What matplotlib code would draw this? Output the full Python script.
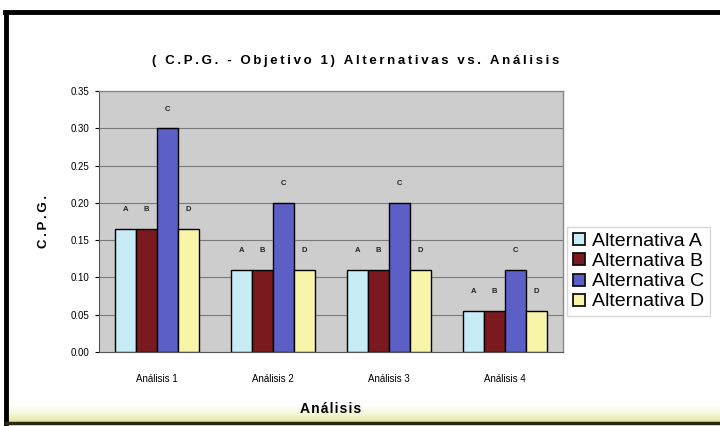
import matplotlib
matplotlib.use("Agg")
import matplotlib.pyplot as plt
import numpy as np
from matplotlib.lines import Line2D

categories = ["Análisis 1", "Análisis 2", "Análisis 3", "Análisis 4"]
series_names = ["Alternativa A", "Alternativa B", "Alternativa C", "Alternativa D"]
bar_letters = ["A", "B", "C", "D"]
alt_a = [0.165, 0.11, 0.11, 0.055]
alt_b = [0.165, 0.11, 0.11, 0.055]
alt_c = [0.30, 0.20, 0.20, 0.11]
alt_d = [0.165, 0.11, 0.11, 0.055]
yticks = [0.00, 0.05, 0.10, 0.15, 0.20, 0.25, 0.30, 0.35]
title = "( C.P.G. - Objetivo 1) Alternativas vs. Análisis"
ylabel = "C.P.G."
xlabel = "Análisis"

colors = ["#c8ecf6", "#7b1a1e", "#5b5fc6", "#f8f5a8"]
series = [alt_a, alt_b, alt_c, alt_d]

plt.rcParams['font.family'] = ['Liberation Sans', 'DejaVu Sans']


def spaced(s, sep="\u2009"):
    return sep.join(list(s))


fig = plt.figure(figsize=(7.2, 4.26), dpi=100)
fig.patch.set_facecolor("white")

# outer frame
grad = np.linspace(0, 1, 50).reshape(-1, 1)
bg = fig.add_axes([0.008, 0.008, 0.992, 0.04], zorder=-5)
bg.imshow(grad, aspect="auto", cmap=matplotlib.colors.LinearSegmentedColormap.from_list(
    "g", ["#ffffff", "#f6f7d6", "#dfe59a"]), origin="upper", extent=[0, 1, 0, 1])
bg.set_axis_off()
fig.add_artist(Line2D([0.007, 1.0], [0.972, 0.972], color="black", lw=3.5, transform=fig.transFigure))
fig.add_artist(Line2D([0.008, 0.008], [0.972, 0.005], color="black", lw=3.5, transform=fig.transFigure))
fig.add_artist(Line2D([0.008, 1.0], [0.008, 0.008], color="#2a2a10", lw=2.5, transform=fig.transFigure))

ax = fig.add_axes([0.1375, 0.1737, 0.6445, 0.6123])
ax.set_facecolor("#cdcdcd")

x = np.arange(len(categories))
w = 0.18
for i, (vals, col, name, let) in enumerate(zip(series, colors, series_names, bar_letters)):
    pos = x + (i - 1.5) * w
    ax.bar(pos, vals, width=w, color=col, edgecolor="black", linewidth=1.0, label=name, zorder=3)
    for p, v in zip(pos, vals):
        ax.text(p, v + 0.021, let, ha="center", va="bottom", fontsize=5.5,
                fontweight="bold", color="#222222", zorder=4)

ax.set_xlim(-0.5, 3.5)
ax.set_ylim(0, 0.35)
ax.set_yticks(yticks)
ax.set_yticklabels([f"{t:.2f}" for t in yticks], fontsize=7)
ax.set_xticks(x)
ax.set_xticklabels(categories, fontsize=7)
ax.tick_params(axis="x", length=0, pad=16)
ax.tick_params(axis="y", length=3, width=0.8, pad=4)
ax.yaxis.grid(True, color="#7a7a7a", linewidth=0.8, zorder=0)
ax.set_axisbelow(True)
for s in ["top", "right"]:
    ax.spines[s].set_color("#888888")
    ax.spines[s].set_linewidth(1.0)
ax.spines["left"].set_color("#555555")
ax.spines["bottom"].set_color("#555555")

ax.set_ylabel(spaced(ylabel), fontsize=9.5, fontweight="bold", labelpad=15)
ax.set_xlabel(spaced(xlabel, "\u200a"), fontsize=10, fontweight="bold", labelpad=13)

fig.text(0.494, 0.857, spaced(title),
         ha="center", va="center", fontsize=9.5, fontweight="bold")

handles = [Line2D([0], [0], marker="s", linestyle="none", markersize=9,
                  markerfacecolor=c, markeredgecolor="#111111", markeredgewidth=1.3)
           for c in colors]
leg = fig.legend(handles, series_names, loc="upper left",
                 bbox_to_anchor=(0.787, 0.468), fontsize=14, frameon=True,
                 handlelength=0.7, handletextpad=0.3, labelspacing=0.13,
                 borderpad=0.3, borderaxespad=0.0, fancybox=False, edgecolor="#cccccc")
leg.get_frame().set_linewidth(1.0)

fig.savefig("out.png", dpi=100)
